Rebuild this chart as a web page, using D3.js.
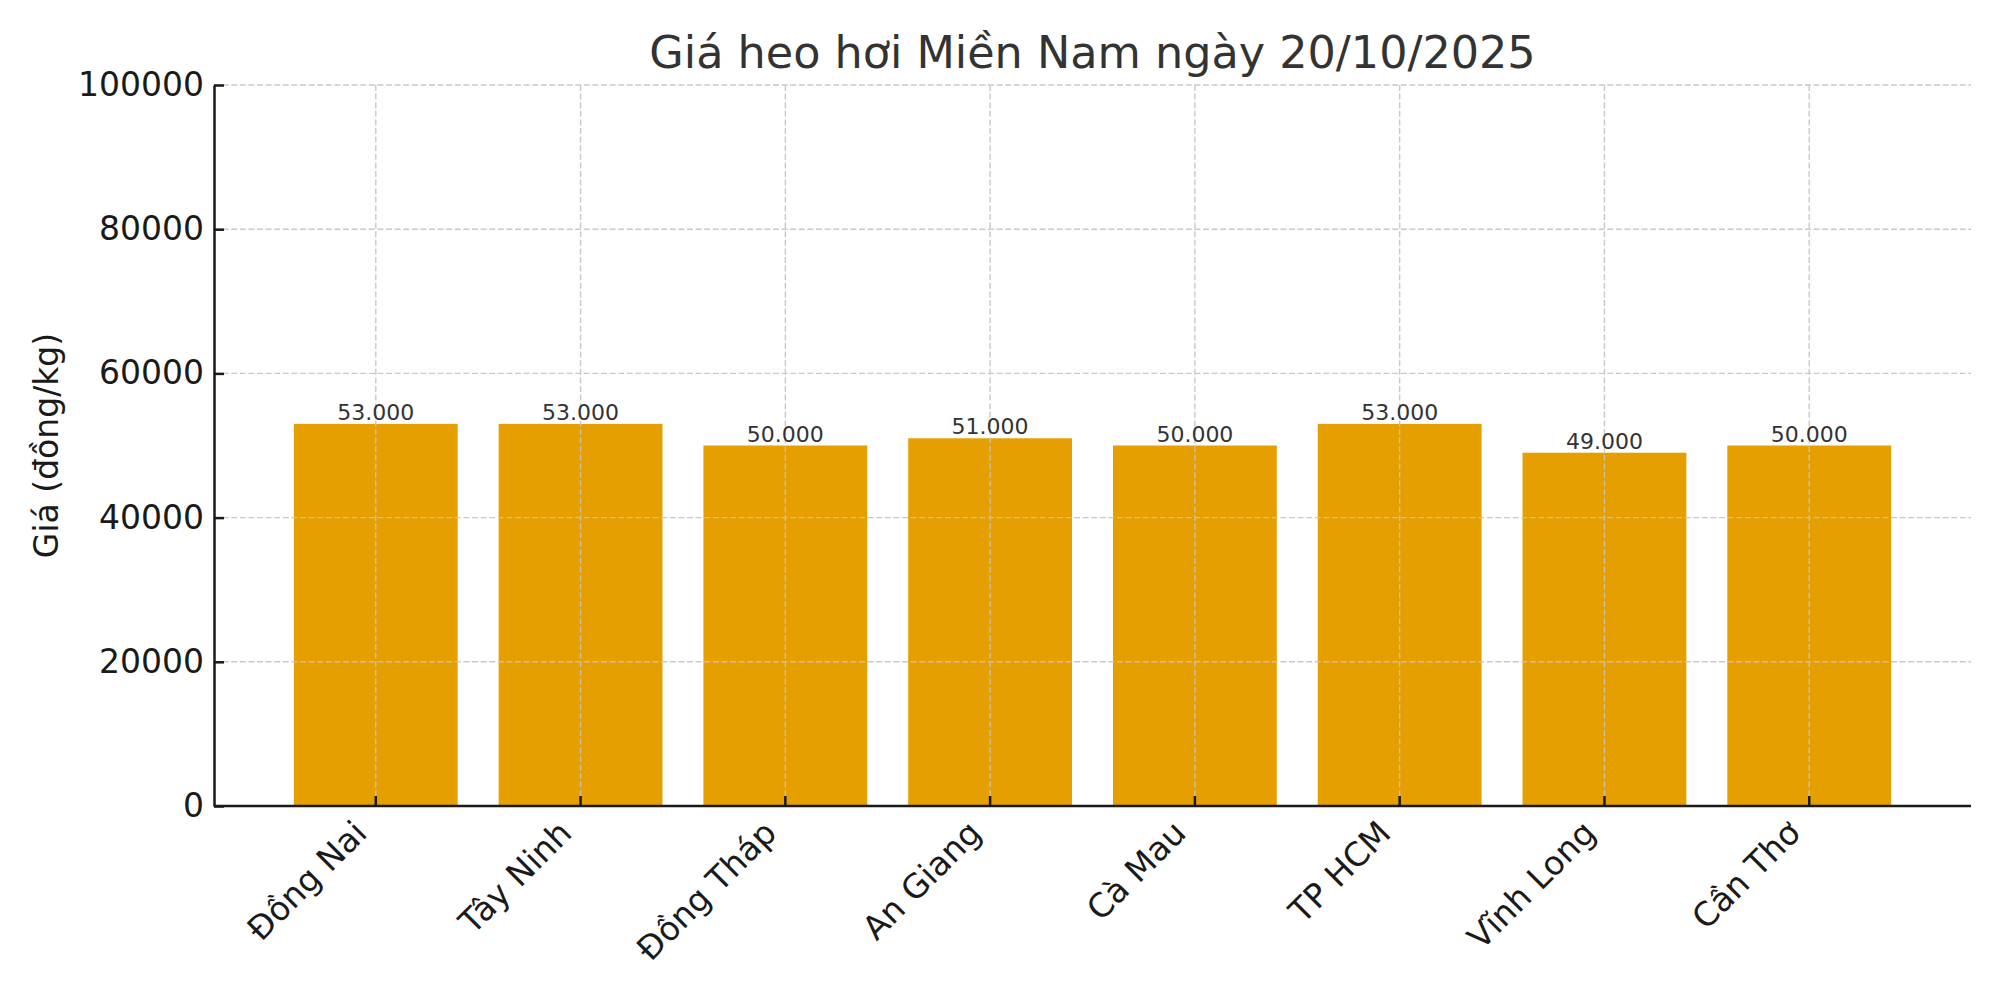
<!DOCTYPE html>
<html>
<head>
<meta charset="utf-8">
<script src="https://cdn.jsdelivr.net/npm/d3@7/dist/d3.min.js"></script>
<style>
  html, body { margin: 0; padding: 0; background: #fff; }
  svg { display: block; font-family: "DejaVu Sans", sans-serif; }
</style>
</head>
<body>
<svg id="chart" width="2000" height="1000"></svg>
<script>
const title = "Giá heo hơi Miền Nam ngày 20/10/2025";
const yLabel = "Giá (đồng/kg)";
const categories = ["Đồng Nai", "Tây Ninh", "Đồng Tháp", "An Giang", "Cà Mau", "TP HCM", "Vĩnh Long", "Cần Thơ"];
const prices = [53000, 53000, 50000, 51000, 50000, 53000, 49000, 50000];
const valueLabels = ["53.000", "53.000", "50.000", "51.000", "50.000", "53.000", "49.000", "50.000"];
const yTicks = [0, 20000, 40000, 60000, 80000, 100000];

const margin = { left: 214, right: 29, top: 85, bottom: 194 };
const W = 2000, H = 1000;
const svg = d3.select("#chart");
const x0 = margin.left, x1 = W - margin.right, y0 = H - margin.bottom, y1 = margin.top;

const x = d3.scaleBand().domain(categories).range([x0, x1])
  .paddingInner(0.2).paddingOuter(0.39);
const y = d3.scaleLinear().domain([0, 100000]).range([y0, y1]);

// bars
svg.append("g").selectAll("rect").data(prices).join("rect")
  .attr("x", (d, i) => x(categories[i]))
  .attr("width", x.bandwidth())
  .attr("y", d => y(d))
  .attr("height", d => y(0) - y(d))
  .attr("fill", "#E69F00");

// grid (drawn above bars)
const grid = svg.append("g").attr("stroke", "#c4c4c4").attr("stroke-width", 1.4)
  .attr("stroke-dasharray", "6,2.6").attr("opacity", 0.9);
grid.selectAll("line.h").data(yTicks.filter(t => t > 0)).join("line").attr("class", "h")
  .attr("x1", x0).attr("x2", x1).attr("y1", d => y(d)).attr("y2", d => y(d));
grid.selectAll("line.v").data(categories).join("line").attr("class", "v")
  .attr("x1", d => x(d) + x.bandwidth() / 2).attr("x2", d => x(d) + x.bandwidth() / 2)
  .attr("y1", y1).attr("y2", y0);

// value labels
svg.append("g").selectAll("text").data(prices).join("text")
  .attr("x", (d, i) => x(categories[i]) + x.bandwidth() / 2)
  .attr("y", d => y(d) - 4)
  .attr("text-anchor", "middle")
  .attr("font-size", 22)
  .attr("fill", "#333")
  .text((d, i) => valueLabels[i]);

// y axis
const yAxis = d3.axisLeft(y).tickValues(yTicks).tickFormat(d3.format("d")).tickSizeInner(-10).tickSizeOuter(0).tickPadding(10);
const gy = svg.append("g").attr("transform", `translate(${x0},0)`).call(yAxis);
gy.select(".domain").attr("stroke", "#1a1a1a").attr("stroke-width", 2.5);
gy.selectAll(".tick line").attr("stroke", "#1a1a1a").attr("stroke-width", 2.5);
gy.selectAll(".tick text").attr("font-size", 33).attr("fill", "#1a1a1a").attr("font-family", "DejaVu Sans");

// x axis
const xAxis = d3.axisBottom(x).tickSizeInner(-10).tickSizeOuter(0).tickPadding(0);
const gx = svg.append("g").attr("transform", `translate(0,${y0})`).call(xAxis);
gx.select(".domain").attr("stroke", "#1a1a1a").attr("stroke-width", 2.5)
  .attr("d", `M${x0},0H${x1}`);
gx.selectAll(".tick line").attr("stroke", "#1a1a1a").attr("stroke-width", 2.5);
gx.selectAll(".tick text")
  .attr("font-size", 33).attr("fill", "#1a1a1a").attr("font-family", "DejaVu Sans")
  .attr("text-anchor", "end")
  .attr("dy", null)
  .attr("y", null)
  .attr("transform", "translate(-7,29) rotate(-45)");

// y label
svg.append("text")
  .attr("transform", `translate(58,${(y0 + y1) / 2}) rotate(-90)`)
  .attr("text-anchor", "middle")
  .attr("font-size", 33)
  .attr("fill", "#1a1a1a")
  .text(yLabel);

// title
svg.append("text")
  .attr("x", (x0 + x1) / 2)
  .attr("y", 68)
  .attr("text-anchor", "middle")
  .attr("font-size", 44.5)
  .attr("fill", "#333")
  .text(title);
</script>
</body>
</html>
